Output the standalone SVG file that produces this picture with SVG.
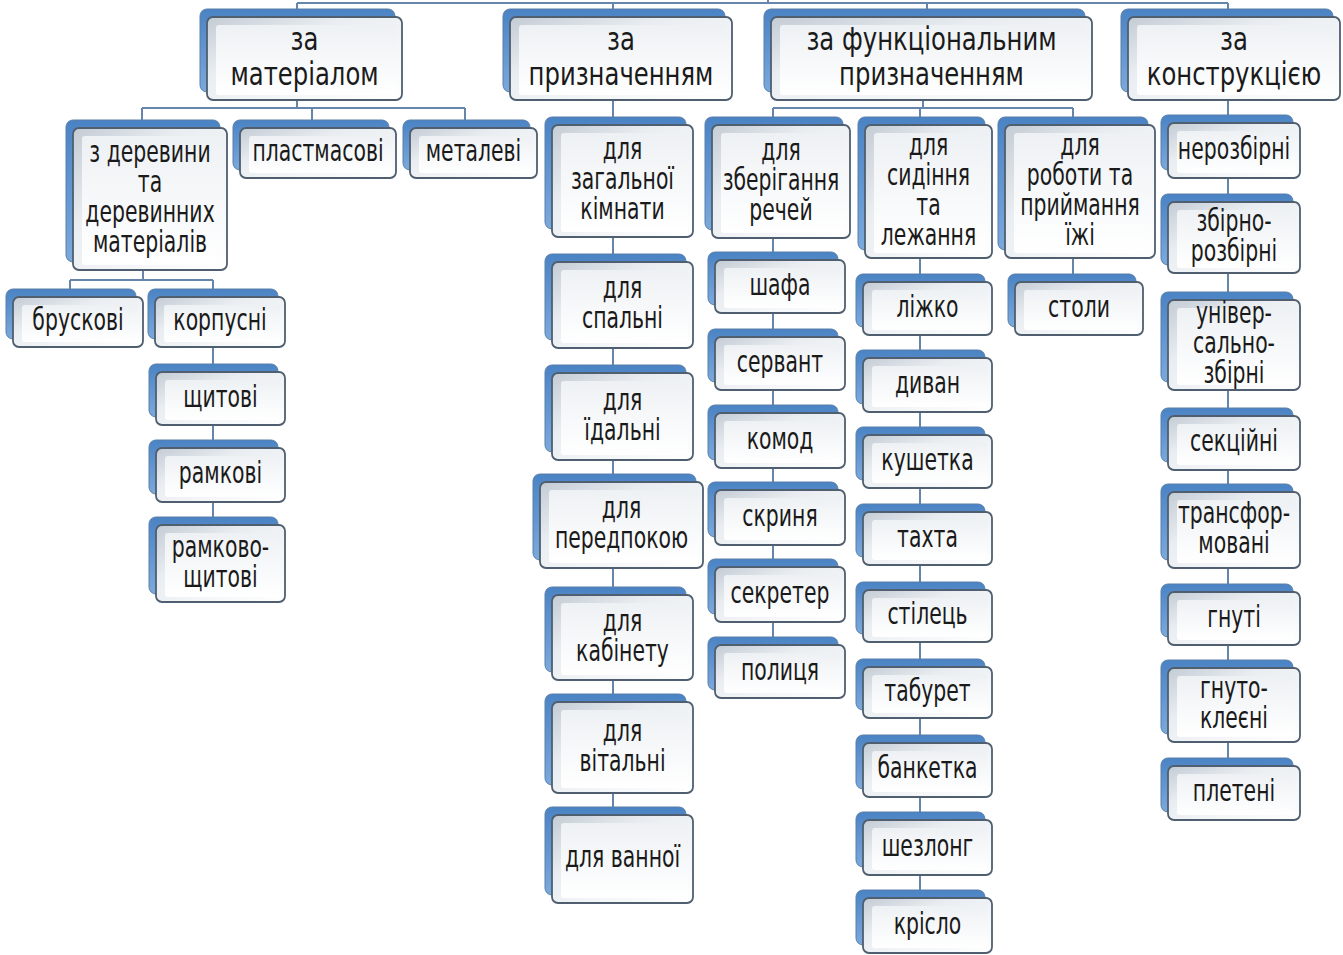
<svg xmlns="http://www.w3.org/2000/svg" width="1343" height="955" viewBox="0 0 1343 955">
<style>
.sh{fill:url(#blue);stroke:#5a7fa8;stroke-width:1}
.bx{fill:url(#edge);stroke:#4f5f70;stroke-width:1.8}
.fc{fill:url(#face)}
.t{font-family:"DejaVu Sans",Verdana,sans-serif;font-size:30px;fill:#1a1a1a;text-anchor:middle}
.tt{font-size:32px}
.cn{fill:none;stroke:#6585ab;stroke-width:2}
</style>
<defs>
<linearGradient id="blue" x1="0" y1="0" x2="0" y2="1"><stop offset="0" stop-color="#4a83c4"/><stop offset="1" stop-color="#7ba9dc"/></linearGradient>
<linearGradient id="edge" x1="0" y1="0" x2="1" y2="1"><stop offset="0" stop-color="#c3cbd4"/><stop offset="0.35" stop-color="#e9edf1"/><stop offset="1" stop-color="#ffffff"/></linearGradient>
<linearGradient id="face" x1="0" y1="0" x2="0" y2="1"><stop offset="0" stop-color="#eef1f4"/><stop offset="1" stop-color="#ffffff"/></linearGradient>
</defs>
<g id="connectors">
<path class="cn" d="M768 0V3M297 3H1228M297 3V9M613 3V9M927 3V9M1228 3V9M297 100V108M142 108H465M142 108V120M312 108V120M465 108V120M143 270V280M70 280H213M70 280V289M213 280V520M613 100V810M923 100V108M773 108H1073M773 108V117M920 108V117M1073 108V117M773 238V640M920 258V892M1073 258V276M1228 100V760"/>
</g>
<g id="n_material"><rect class="sh" x="200" y="9" width="195" height="83" rx="7"/><rect class="bx" x="207" y="17" width="195" height="83" rx="6"/><rect class="fc" x="216" y="25" width="181" height="70" rx="3"/><text class="t tt" transform="translate(304.5,0) scale(0.76,1)"><tspan x="0" y="50">за</tspan><tspan x="0" y="85">матеріалом</tspan></text></g>
<g id="n_pryzn"><rect class="sh" x="503" y="9" width="222" height="83" rx="7"/><rect class="bx" x="510" y="17" width="222" height="83" rx="6"/><rect class="fc" x="519" y="25" width="208" height="70" rx="3"/><text class="t tt" transform="translate(621,0) scale(0.76,1)"><tspan x="0" y="50">за</tspan><tspan x="0" y="85">призначенням</tspan></text></g>
<g id="n_func"><rect class="sh" x="764" y="9" width="321" height="83" rx="7"/><rect class="bx" x="771" y="17" width="321" height="83" rx="6"/><rect class="fc" x="780" y="25" width="307" height="70" rx="3"/><text class="t tt" transform="translate(931.5,0) scale(0.76,1)"><tspan x="0" y="50">за функціональним</tspan><tspan x="0" y="85">призначенням</tspan></text></g>
<g id="n_constr"><rect class="sh" x="1121" y="9" width="212" height="83" rx="7"/><rect class="bx" x="1128" y="17" width="212" height="83" rx="6"/><rect class="fc" x="1137" y="25" width="198" height="70" rx="3"/><text class="t tt" transform="translate(1234,0) scale(0.76,1)"><tspan x="0" y="50">за</tspan><tspan x="0" y="85">конструкцією</tspan></text></g>

<g id="n_wood"><rect class="sh" x="66" y="120" width="154" height="142" rx="7"/><rect class="bx" x="73" y="128" width="154" height="142" rx="6"/><rect class="fc" x="82" y="136" width="140" height="129" rx="3"/><text class="t" transform="translate(150,0) scale(0.68,1)"><tspan x="0" y="162.5">з деревини</tspan><tspan x="0" y="192.5">та</tspan><tspan x="0" y="222.5">деревинних</tspan><tspan x="0" y="252.5">матеріалів</tspan></text></g>
<g id="n_plast"><rect class="sh" x="233" y="120" width="156" height="50" rx="7"/><rect class="bx" x="240" y="128" width="156" height="50" rx="6"/><rect class="fc" x="249" y="136" width="142" height="37" rx="3"/><text class="t" transform="translate(318,0) scale(0.68,1)"><tspan x="0" y="161.5">пластмасові</tspan></text></g>
<g id="n_metal"><rect class="sh" x="403" y="120" width="127" height="50" rx="7"/><rect class="bx" x="410" y="128" width="127" height="50" rx="6"/><rect class="fc" x="419" y="136" width="113" height="37" rx="3"/><text class="t" transform="translate(473.5,0) scale(0.68,1)"><tspan x="0" y="161.5">металеві</tspan></text></g>

<g id="n_brusk"><rect class="sh" x="6" y="289" width="130" height="50" rx="7"/><rect class="bx" x="13" y="297" width="130" height="50" rx="6"/><rect class="fc" x="22" y="305" width="116" height="37" rx="3"/><text class="t" transform="translate(78,0) scale(0.68,1)"><tspan x="0" y="330.5">брускові</tspan></text></g>
<g id="n_korp"><rect class="sh" x="148" y="289" width="130" height="50" rx="7"/><rect class="bx" x="155" y="297" width="130" height="50" rx="6"/><rect class="fc" x="164" y="305" width="116" height="37" rx="3"/><text class="t" transform="translate(220,0) scale(0.68,1)"><tspan x="0" y="330.5">корпусні</tspan></text></g>
<g id="n_shchyt"><rect class="sh" x="149" y="364" width="129" height="53" rx="7"/><rect class="bx" x="156" y="372" width="129" height="53" rx="6"/><rect class="fc" x="165" y="380" width="115" height="40" rx="3"/><text class="t" transform="translate(220.5,0) scale(0.68,1)"><tspan x="0" y="407">щитові</tspan></text></g>
<g id="n_ramk"><rect class="sh" x="149" y="440" width="129" height="54" rx="7"/><rect class="bx" x="156" y="448" width="129" height="54" rx="6"/><rect class="fc" x="165" y="456" width="115" height="41" rx="3"/><text class="t" transform="translate(220.5,0) scale(0.68,1)"><tspan x="0" y="483.5">рамкові</tspan></text></g>
<g id="n_ramkshch"><rect class="sh" x="149" y="517" width="129" height="77" rx="7"/><rect class="bx" x="156" y="525" width="129" height="77" rx="6"/><rect class="fc" x="165" y="533" width="115" height="64" rx="3"/><text class="t" transform="translate(220.5,0) scale(0.68,1)"><tspan x="0" y="557">рамково-</tspan><tspan x="0" y="587">щитові</tspan></text></g>

<g id="n_zag"><rect class="sh" x="545" y="117" width="141" height="112" rx="7"/><rect class="bx" x="552" y="125" width="141" height="112" rx="6"/><rect class="fc" x="561" y="133" width="127" height="99" rx="3"/><text class="t" transform="translate(622.5,0) scale(0.68,1)"><tspan x="0" y="159.5">для</tspan><tspan x="0" y="189.5">загальної</tspan><tspan x="0" y="219.5">кімнати</tspan></text></g>
<g id="n_spal"><rect class="sh" x="545" y="254" width="141" height="86" rx="7"/><rect class="bx" x="552" y="262" width="141" height="86" rx="6"/><rect class="fc" x="561" y="270" width="127" height="73" rx="3"/><text class="t" transform="translate(622.5,0) scale(0.68,1)"><tspan x="0" y="298.5">для</tspan><tspan x="0" y="328.5">спальні</tspan></text></g>
<g id="n_idal"><rect class="sh" x="545" y="365" width="141" height="87" rx="7"/><rect class="bx" x="552" y="373" width="141" height="87" rx="6"/><rect class="fc" x="561" y="381" width="127" height="74" rx="3"/><text class="t" transform="translate(622.5,0) scale(0.68,1)"><tspan x="0" y="410">для</tspan><tspan x="0" y="440">їдальні</tspan></text></g>
<g id="n_peredp"><rect class="sh" x="533" y="474" width="163" height="86" rx="7"/><rect class="bx" x="540" y="482" width="163" height="86" rx="6"/><rect class="fc" x="549" y="490" width="149" height="73" rx="3"/><text class="t" transform="translate(621.5,0) scale(0.68,1)"><tspan x="0" y="518.5">для</tspan><tspan x="0" y="548.5">передпокою</tspan></text></g>
<g id="n_kabin"><rect class="sh" x="545" y="587" width="141" height="85" rx="7"/><rect class="bx" x="552" y="595" width="141" height="85" rx="6"/><rect class="fc" x="561" y="603" width="127" height="72" rx="3"/><text class="t" transform="translate(622.5,0) scale(0.68,1)"><tspan x="0" y="631">для</tspan><tspan x="0" y="661">кабінету</tspan></text></g>
<g id="n_vital"><rect class="sh" x="545" y="694" width="141" height="91" rx="7"/><rect class="bx" x="552" y="702" width="141" height="91" rx="6"/><rect class="fc" x="561" y="710" width="127" height="78" rx="3"/><text class="t" transform="translate(622.5,0) scale(0.68,1)"><tspan x="0" y="741">для</tspan><tspan x="0" y="771">вітальні</tspan></text></g>
<g id="n_vann"><rect class="sh" x="545" y="807" width="141" height="88" rx="7"/><rect class="bx" x="552" y="815" width="141" height="88" rx="6"/><rect class="fc" x="561" y="823" width="127" height="75" rx="3"/><text class="t" transform="translate(622.5,0) scale(0.68,1)"><tspan x="0" y="867.5">для ванної</tspan></text></g>

<g id="n_zber"><rect class="sh" x="705" y="117" width="138" height="113" rx="7"/><rect class="bx" x="712" y="125" width="138" height="113" rx="6"/><rect class="fc" x="721" y="133" width="124" height="100" rx="3"/><text class="t" transform="translate(781,0) scale(0.68,1)"><tspan x="0" y="160">для</tspan><tspan x="0" y="190">зберігання</tspan><tspan x="0" y="220">речей</tspan></text></g>
<g id="n_syd"><rect class="sh" x="858" y="117" width="127" height="133" rx="7"/><rect class="bx" x="865" y="125" width="127" height="133" rx="6"/><rect class="fc" x="874" y="133" width="113" height="120" rx="3"/><text class="t" transform="translate(928.5,0) scale(0.68,1)"><tspan x="0" y="155">для</tspan><tspan x="0" y="185">сидіння</tspan><tspan x="0" y="215">та</tspan><tspan x="0" y="245">лежання</tspan></text></g>
<g id="n_rob"><rect class="sh" x="998" y="117" width="150" height="133" rx="7"/><rect class="bx" x="1005" y="125" width="150" height="133" rx="6"/><rect class="fc" x="1014" y="133" width="136" height="120" rx="3"/><text class="t" transform="translate(1080,0) scale(0.68,1)"><tspan x="0" y="155">для</tspan><tspan x="0" y="185">роботи та</tspan><tspan x="0" y="215">приймання</tspan><tspan x="0" y="245">їжі</tspan></text></g>

<g id="n_shafa"><rect class="sh" x="708" y="252" width="130" height="53" rx="7"/><rect class="bx" x="715" y="260" width="130" height="53" rx="6"/><rect class="fc" x="724" y="268" width="116" height="40" rx="3"/><text class="t" transform="translate(780,0) scale(0.68,1)"><tspan x="0" y="295">шафа</tspan></text></g>
<g id="n_servant"><rect class="sh" x="708" y="329" width="130" height="53" rx="7"/><rect class="bx" x="715" y="337" width="130" height="53" rx="6"/><rect class="fc" x="724" y="345" width="116" height="40" rx="3"/><text class="t" transform="translate(780,0) scale(0.68,1)"><tspan x="0" y="372">сервант</tspan></text></g>
<g id="n_komod"><rect class="sh" x="708" y="405" width="130" height="55" rx="7"/><rect class="bx" x="715" y="413" width="130" height="55" rx="6"/><rect class="fc" x="724" y="421" width="116" height="42" rx="3"/><text class="t" transform="translate(780,0) scale(0.68,1)"><tspan x="0" y="449">комод</tspan></text></g>
<g id="n_skrynia"><rect class="sh" x="708" y="482" width="130" height="55" rx="7"/><rect class="bx" x="715" y="490" width="130" height="55" rx="6"/><rect class="fc" x="724" y="498" width="116" height="42" rx="3"/><text class="t" transform="translate(780,0) scale(0.68,1)"><tspan x="0" y="526">скриня</tspan></text></g>
<g id="n_sekreter"><rect class="sh" x="708" y="559" width="130" height="55" rx="7"/><rect class="bx" x="715" y="567" width="130" height="55" rx="6"/><rect class="fc" x="724" y="575" width="116" height="42" rx="3"/><text class="t" transform="translate(780,0) scale(0.68,1)"><tspan x="0" y="603">секретер</tspan></text></g>
<g id="n_polytsia"><rect class="sh" x="708" y="637" width="130" height="53" rx="7"/><rect class="bx" x="715" y="645" width="130" height="53" rx="6"/><rect class="fc" x="724" y="653" width="116" height="40" rx="3"/><text class="t" transform="translate(780,0) scale(0.68,1)"><tspan x="0" y="680">полиця</tspan></text></g>

<g id="n_lizhko"><rect class="sh" x="856" y="274" width="129" height="53" rx="7"/><rect class="bx" x="863" y="282" width="129" height="53" rx="6"/><rect class="fc" x="872" y="290" width="115" height="40" rx="3"/><text class="t" transform="translate(927.5,0) scale(0.68,1)"><tspan x="0" y="317">ліжко</tspan></text></g>
<g id="n_dyvan"><rect class="sh" x="856" y="350" width="129" height="54" rx="7"/><rect class="bx" x="863" y="358" width="129" height="54" rx="6"/><rect class="fc" x="872" y="366" width="115" height="41" rx="3"/><text class="t" transform="translate(927.5,0) scale(0.68,1)"><tspan x="0" y="393.5">диван</tspan></text></g>
<g id="n_kushetka"><rect class="sh" x="856" y="427" width="129" height="53" rx="7"/><rect class="bx" x="863" y="435" width="129" height="53" rx="6"/><rect class="fc" x="872" y="443" width="115" height="40" rx="3"/><text class="t" transform="translate(927.5,0) scale(0.68,1)"><tspan x="0" y="470">кушетка</tspan></text></g>
<g id="n_takhta"><rect class="sh" x="856" y="504" width="129" height="53" rx="7"/><rect class="bx" x="863" y="512" width="129" height="53" rx="6"/><rect class="fc" x="872" y="520" width="115" height="40" rx="3"/><text class="t" transform="translate(927.5,0) scale(0.68,1)"><tspan x="0" y="547">тахта</tspan></text></g>
<g id="n_stilets"><rect class="sh" x="856" y="582" width="129" height="52" rx="7"/><rect class="bx" x="863" y="590" width="129" height="52" rx="6"/><rect class="fc" x="872" y="598" width="115" height="39" rx="3"/><text class="t" transform="translate(927.5,0) scale(0.68,1)"><tspan x="0" y="624.5">стілець</tspan></text></g>
<g id="n_taburet"><rect class="sh" x="856" y="659" width="129" height="51" rx="7"/><rect class="bx" x="863" y="667" width="129" height="51" rx="6"/><rect class="fc" x="872" y="675" width="115" height="38" rx="3"/><text class="t" transform="translate(927.5,0) scale(0.68,1)"><tspan x="0" y="701">табурет</tspan></text></g>
<g id="n_banketka"><rect class="sh" x="856" y="735" width="129" height="54" rx="7"/><rect class="bx" x="863" y="743" width="129" height="54" rx="6"/><rect class="fc" x="872" y="751" width="115" height="41" rx="3"/><text class="t" transform="translate(927.5,0) scale(0.68,1)"><tspan x="0" y="778.5">банкетка</tspan></text></g>
<g id="n_shezlong"><rect class="sh" x="856" y="812" width="129" height="55" rx="7"/><rect class="bx" x="863" y="820" width="129" height="55" rx="6"/><rect class="fc" x="872" y="828" width="115" height="42" rx="3"/><text class="t" transform="translate(927.5,0) scale(0.68,1)"><tspan x="0" y="856">шезлонг</tspan></text></g>
<g id="n_krislo"><rect class="sh" x="856" y="890" width="129" height="55" rx="7"/><rect class="bx" x="863" y="898" width="129" height="55" rx="6"/><rect class="fc" x="872" y="906" width="115" height="42" rx="3"/><text class="t" transform="translate(927.5,0) scale(0.68,1)"><tspan x="0" y="934">крісло</tspan></text></g>

<g id="n_stoly"><rect class="sh" x="1008" y="274" width="128" height="53" rx="7"/><rect class="bx" x="1015" y="282" width="128" height="53" rx="6"/><rect class="fc" x="1024" y="290" width="114" height="40" rx="3"/><text class="t" transform="translate(1079,0) scale(0.68,1)"><tspan x="0" y="317">столи</tspan></text></g>

<g id="n_nerozb"><rect class="sh" x="1161" y="115" width="132" height="55" rx="7"/><rect class="bx" x="1168" y="123" width="132" height="55" rx="6"/><rect class="fc" x="1177" y="131" width="118" height="42" rx="3"/><text class="t" transform="translate(1234,0) scale(0.68,1)"><tspan x="0" y="159">нерозбірні</tspan></text></g>
<g id="n_zbirno"><rect class="sh" x="1161" y="194" width="132" height="71" rx="7"/><rect class="bx" x="1168" y="202" width="132" height="71" rx="6"/><rect class="fc" x="1177" y="210" width="118" height="58" rx="3"/><text class="t" transform="translate(1234,0) scale(0.68,1)"><tspan x="0" y="231">збірно-</tspan><tspan x="0" y="261">розбірні</tspan></text></g>
<g id="n_univer"><rect class="sh" x="1161" y="292" width="132" height="90" rx="7"/><rect class="bx" x="1168" y="300" width="132" height="90" rx="6"/><rect class="fc" x="1177" y="308" width="118" height="77" rx="3"/><text class="t" transform="translate(1234,0) scale(0.68,1)"><tspan x="0" y="323.5">універ-</tspan><tspan x="0" y="353.5">сально-</tspan><tspan x="0" y="383.5">збірні</tspan></text></g>
<g id="n_sektsiini"><rect class="sh" x="1161" y="408" width="132" height="54" rx="7"/><rect class="bx" x="1168" y="416" width="132" height="54" rx="6"/><rect class="fc" x="1177" y="424" width="118" height="41" rx="3"/><text class="t" transform="translate(1234,0) scale(0.68,1)"><tspan x="0" y="451.5">секційні</tspan></text></g>
<g id="n_transf"><rect class="sh" x="1161" y="484" width="132" height="76" rx="7"/><rect class="bx" x="1168" y="492" width="132" height="76" rx="6"/><rect class="fc" x="1177" y="500" width="118" height="63" rx="3"/><text class="t" transform="translate(1234,0) scale(0.68,1)"><tspan x="0" y="523.5">трансфор-</tspan><tspan x="0" y="553.5">мовані</tspan></text></g>
<g id="n_hnuti"><rect class="sh" x="1161" y="584" width="132" height="53" rx="7"/><rect class="bx" x="1168" y="592" width="132" height="53" rx="6"/><rect class="fc" x="1177" y="600" width="118" height="40" rx="3"/><text class="t" transform="translate(1234,0) scale(0.68,1)"><tspan x="0" y="627">гнуті</tspan></text></g>
<g id="n_hnutokl"><rect class="sh" x="1161" y="660" width="132" height="74" rx="7"/><rect class="bx" x="1168" y="668" width="132" height="74" rx="6"/><rect class="fc" x="1177" y="676" width="118" height="61" rx="3"/><text class="t" transform="translate(1234,0) scale(0.68,1)"><tspan x="0" y="698.5">гнуто-</tspan><tspan x="0" y="728.5">клеєні</tspan></text></g>
<g id="n_pleteni"><rect class="sh" x="1161" y="758" width="132" height="54" rx="7"/><rect class="bx" x="1168" y="766" width="132" height="54" rx="6"/><rect class="fc" x="1177" y="774" width="118" height="41" rx="3"/><text class="t" transform="translate(1234,0) scale(0.68,1)"><tspan x="0" y="801.5">плетені</tspan></text></g>
</svg>
